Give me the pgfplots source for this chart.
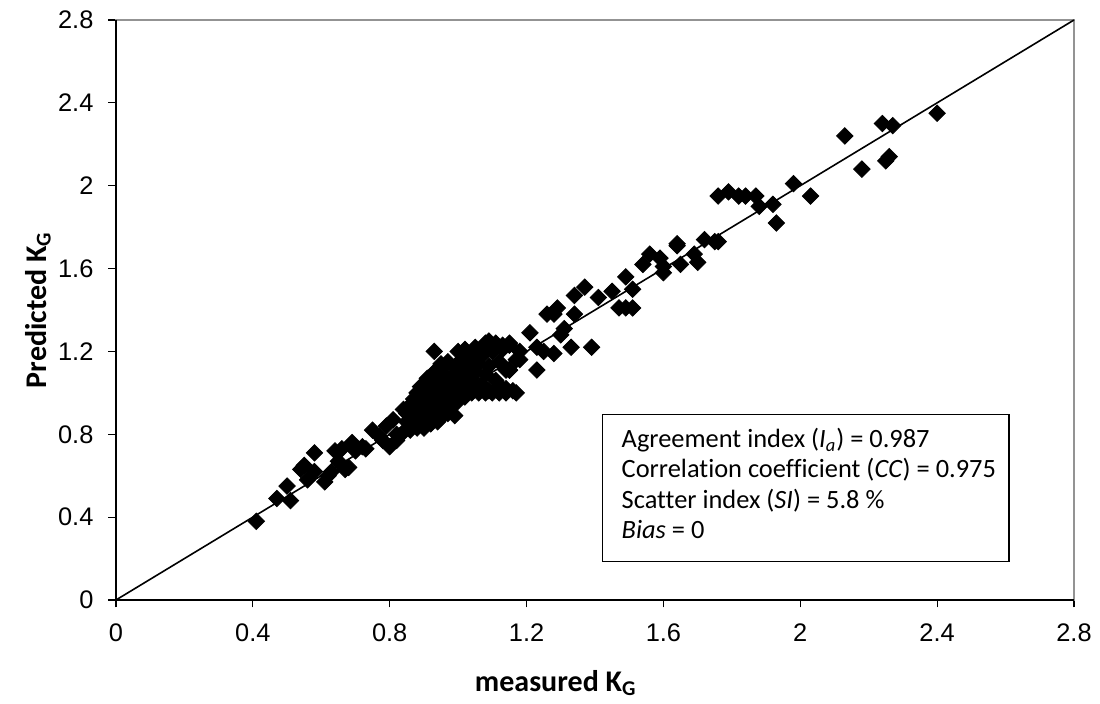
\documentclass[border=0pt]{standalone}
\usepackage{pgfplots}
\pgfplotsset{compat=1.18}
\usepackage{fontspec}
\setmainfont{Carlito}[Ligatures=NoCommon]
\newfontfamily\arialf{Liberation Sans}
\begin{document}
\begin{tikzpicture}
\useasboundingbox (-58pt,-52pt) rectangle (492pt,300pt);
\begin{axis}[
  at={(0,0)}, anchor=south west,
  scale only axis, width=479pt, height=290pt,
  xmin=0, xmax=2.8, ymin=0, ymax=2.8,
  xtick={0,0.4,0.8,1.2,1.6,2,2.4,2.8},
  ytick={0,0.4,0.8,1.2,1.6,2,2.4,2.8},
  tick pos=left, tick align=outside, major tick length=3.75pt,
  tick style={black, line width=0.6pt},
  axis line style={draw=gray!85, line width=0.6pt},
  /pgf/number format/assume math mode=true,
  ticklabel style={font=\arialf\fontsize{12.7}{14}\selectfont},
  xticklabel shift=4.5pt, yticklabel shift=4pt,
  xlabel={measured K\textsubscript{G}},
  ylabel={Predicted K\textsubscript{G}},
  label style={font=\bfseries\fontsize{15}{17}\selectfont},
  xlabel style={at={(axis description cs:0.459,-0.1431)}, anchor=center},
  ylabel style={at={(axis description cs:-0.0814,0.5)}, anchor=center},
  clip=false,
]
\draw[black, line width=0.7pt] (rel axis cs:0,1) -- (rel axis cs:0,0) -- (rel axis cs:1,0);
\addplot[black, line width=0.8pt] coordinates {(0,0) (2.8,2.8)};
\addplot[only marks, mark=square*, mark size=2.9pt, mark options={rotate=45, fill=black, draw=black}] table {
x y
0.41 0.38
0.47 0.49
0.50 0.55
0.51 0.48
0.54 0.63
0.55 0.65
0.56 0.58
0.58 0.71
0.58 0.62
0.61 0.57
0.62 0.60
0.63 0.62
0.64 0.72
0.65 0.67
0.66 0.73
0.67 0.63
0.68 0.64
0.69 0.76
0.70 0.72
0.72 0.74
0.73 0.73
0.75 0.82
0.77 0.79
0.78 0.77
0.79 0.84
0.80 0.74
0.81 0.87
0.82 0.77
0.82 0.80
0.84 0.92
0.84 0.81
0.85 0.86
0.85 0.90
0.86 0.82
0.86 0.94
0.87 0.88
0.87 0.97
0.88 0.83
0.88 0.92
0.88 1.00
0.89 0.86
0.89 0.95
0.89 1.03
0.90 0.83
0.90 0.90
0.90 0.98
0.91 0.87
0.91 0.93
0.91 1.01
0.91 1.07
0.92 0.85
0.92 0.96
0.92 1.04
0.93 0.89
0.93 0.99
0.93 1.10
0.93 1.20
0.94 0.86
0.94 0.93
0.94 1.02
0.95 0.88
0.95 0.97
0.95 1.06
0.95 1.14
0.96 0.91
0.96 1.00
0.96 1.09
0.97 0.90
0.97 0.95
0.97 1.03
0.97 1.15
0.98 0.93
0.98 0.99
0.98 1.07
0.99 0.89
0.99 1.01
0.99 1.12
1.00 0.96
1.00 1.04
1.00 1.20
1.01 1.00
1.01 1.09
1.01 1.16
1.02 0.98
1.02 1.05
1.02 1.21
1.02 1.14
1.03 1.01
1.03 1.12
1.04 1.00
1.04 1.07
1.04 1.17
1.05 1.02
1.05 1.10
1.05 1.22
1.06 1.00
1.06 1.14
1.07 1.04
1.07 1.18
1.08 1.00
1.08 1.09
1.08 1.24
1.09 1.01
1.09 1.13
1.09 1.25
1.10 1.00
1.10 1.20
1.11 1.06
1.11 1.24
1.12 1.00
1.12 1.15
1.13 1.02
1.13 1.21
1.13 1.23
1.14 1.00
1.14 1.11
1.15 1.23
1.15 1.11
1.15 1.24
1.16 1.01
1.17 1.00
1.17 1.16
1.18 1.20
1.18 1.16
1.14 1.02
1.15 1.11
1.21 1.29
1.23 1.22
1.23 1.11
1.25 1.20
1.26 1.38
1.28 1.19
1.28 1.38
1.29 1.41
1.30 1.28
1.31 1.31
1.33 1.22
1.34 1.38
1.34 1.47
1.37 1.51
1.39 1.22
1.41 1.46
1.45 1.49
1.47 1.41
1.49 1.41
1.51 1.41
1.49 1.56
1.51 1.50
1.54 1.62
1.56 1.67
1.59 1.65
1.60 1.58
1.60 1.61
1.64 1.71
1.64 1.72
1.65 1.62
1.69 1.67
1.70 1.63
1.72 1.74
1.75 1.73
1.76 1.73
1.76 1.95
1.79 1.97
1.82 1.95
1.84 1.95
1.87 1.95
1.88 1.90
1.92 1.91
1.93 1.82
1.98 2.01
2.03 1.95
2.13 2.24
2.18 2.08
2.24 2.30
2.25 2.12
2.26 2.14
2.27 2.29
2.40 2.35
};
\draw[black, line width=0.6pt] (axis cs:1.422,0.184) rectangle (axis cs:2.61,0.896);
\begin{scope}[every node/.style={anchor=base west, inner sep=0pt, font=\fontsize{13.2}{15}\selectfont}]
\node at (axis cs:1.477,0.736) {Agreement index (\textit{I\textsubscript{a}}) = 0.987};
\node at (axis cs:1.477,0.590) {Correlation coefficient (\textit{CC}) = 0.975};
\node at (axis cs:1.477,0.444) {Scatter index (\textit{SI}) = 5.8 \%};
\node at (axis cs:1.477,0.299) {\textit{Bias} = 0};
\end{scope}
\end{axis}
\end{tikzpicture}
\end{document}
